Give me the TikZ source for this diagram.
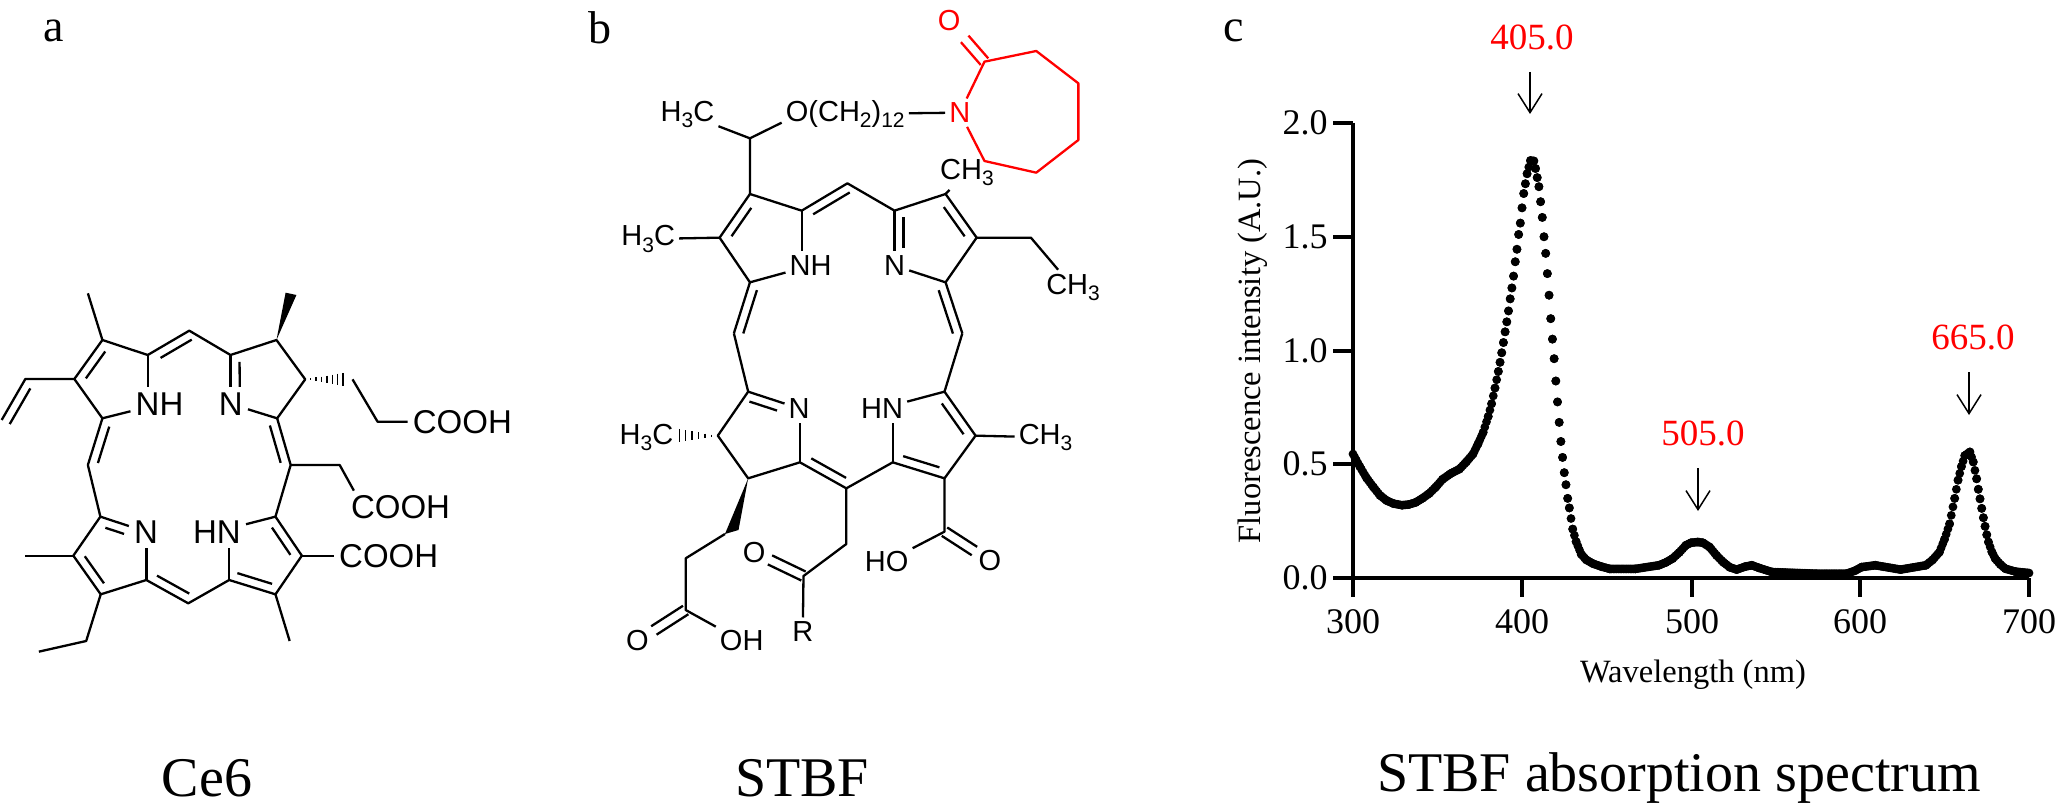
\documentclass[tikz,border=0pt]{standalone}
\usepackage{fontspec}
\setmainfont{Liberation Serif}
\newfontfamily\chemfont{Liberation Sans}
\usetikzlibrary{calc,arrows.meta}

\newcommand{\chemsub}[1]{\raisebox{-.22em}{\fontsize{21}{22}\selectfont #1}}
% second stroke of a double bond: [offset]{from}{to}{side}{start}{end}
\newcommand{\innerbond}[6][9pt]{\draw[bond] ($(#2)!#5!(#3)!#1!#4:(#3)$) -- ($(#2)!#6!(#3)!#1!#4:(#3)$);}

\tikzset{
    bond/.style={line width=2.3pt,line join=round},
    redbond/.style={bond,red},
    chema/.style={font=\chemfont\fontsize{33}{36}\selectfont,inner sep=5pt},
    chemb/.style={font=\chemfont\fontsize{29}{32}\selectfont,inner sep=4pt},
    axisline/.style={line width=4.4pt},
    ticklab/.style={font=\fontsize{36}{38}\selectfont,inner sep=0pt},
    titlelab/.style={font=\fontsize{32.5}{36}\selectfont,inner sep=0pt},
    peaklab/.style={font=\fontsize{37}{40}\selectfont,text=red,inner sep=0pt},
    peakarrow/.style={line width=1.5pt,-{Straight Barb[length=19pt,width=24pt,line width=1.5pt]}},
    panellab/.style={font=\fontsize{46}{50}\selectfont,inner sep=0pt},
    caption/.style={font=\fontsize{56}{60}\selectfont,inner sep=0pt},
    zoomone/.style={shift={(0pt,-260pt)},x=.338pt,y=-.33333pt},
    zoomtwo/.style={shift={(600pt,0pt)},x=.357pt,y=-.33333pt},
    zoomthree/.style={shift={(600pt,-360pt)},x=.357pt,y=-.33333pt},
}

\begin{document}
\begin{tikzpicture}[x=1pt,y=-1pt]
    \useasboundingbox (0,0) rectangle (2055,810);

    % panel letters and captions
    \node[panellab] (pana) at (54,31) {a};
    \node[panellab] (panb) at (600,28) {b};
    \node[panellab] (panc) at (1234,31) {c};
    \node[caption] (capa) at (207,778) {Ce6};
    \node[caption] (capb) at (802,778) {STBF};
    \node[caption] (capc) at (1679,778) {STBF absorption spectrum};

    % Ce6
    \begin{scope}[zoomone]
        \coordinate (A1) at (303,240);
        \coordinate (A2) at (220,357);
        \coordinate (A3) at (303,475);
        \coordinate (A4) at (437,285);
        \coordinate (M1) at (560,212);
        \coordinate (B1) at (682,285);
        \coordinate (B2) at (818,240);
        \coordinate (B3) at (903,358);
        \coordinate (B4) at (820,475);
        \coordinate (M2) at (860,615);
        \coordinate (C1) at (815,770);
        \coordinate (C2) at (893,887);
        \coordinate (C3) at (815,1003);
        \coordinate (C4) at (678,960);
        \coordinate (M3) at (557,1030);
        \coordinate (D1) at (433,960);
        \coordinate (D2) at (298,1003);
        \coordinate (D3) at (217,887);
        \coordinate (D4) at (297,770);
        \coordinate (M4) at (260,615);
        \coordinate (V1) at (75,357);
        \coordinate (V2) at (5,480);
        \coordinate (Me1) at (260,100);
        \coordinate (Me2) at (73,887);
        \coordinate (Me3) at (857,1143);
        \coordinate (Et1) at (255,1143);
        \coordinate (Et2) at (115,1175);
        \coordinate (Pr1) at (1043,358);
        \coordinate (Pr2) at (1117,485);
        \coordinate (Ac1) at (1005,615);
        \coordinate (Ac2) at (1047,692);

        \node[chema] (nh1) at (472,432) {NH};
        \node[chema] (n1) at (683,432) {N};
        \node[chema] (n2) at (432,815) {N};
        \node[chema] (hn2) at (642,815) {HN};
        \node[chema] (cooh1) at (1368,485) {COOH};
        \node[chema] (cooh2) at (1185,742) {COOH};
        \node[chema] (cooh3) at (1150,887) {COOH};

        % skeleton
        \draw[bond] (nh1) -- (A3) -- (A2) -- (A1) -- (A4) -- (M1) -- (B1) -- (B2) -- (B3) -- (B4) -- (n1);
        \draw[bond] (A4) -- (A4 |- nh1.north);
        \draw[bond] (B1) -- (B1 |- n1.north);
        \draw[bond] (A3) -- (M4) -- (D4) -- (n2);
        \draw[bond] (D4) -- (D3) -- (D2) -- (D1) -- (M3) -- (C4) -- (C3) -- (C2) -- (C1) -- (hn2);
        \draw[bond] (D1) -- (D1 |- n2.south);
        \draw[bond] (C4) -- (C4 |- hn2.south);
        \draw[bond] (B4) -- (M2) -- (C1);

        % second strokes
        \innerbond{A1}{A2}{90}{.16}{.85}
        \innerbond{A4}{M1}{-90}{.2}{.95}
        \innerbond{B1}{n1}{90}{.14}{.65}
        \innerbond{B4}{M2}{-90}{.1}{.9}
        \innerbond{A3}{M4}{90}{.12}{.9}
        \innerbond{D4}{n2}{-90}{.17}{.58}
        \innerbond{D3}{D2}{90}{.15}{.85}
        \innerbond{D1}{M3}{90}{.15}{.92}
        \innerbond{C4}{C3}{90}{.12}{.87}
        \innerbond{C1}{C2}{-90}{.15}{.85}
        \innerbond{V1}{V2}{90}{.12}{.99}

        % side groups
        \draw[bond] (A1) -- (Me1);
        \draw[bond] (A2) -- (V1) -- (V2);
        \draw[bond] (D3) -- (Me2);
        \draw[bond] (D2) -- (Et1) -- (Et2);
        \draw[bond] (C3) -- (Me3);
        \draw[bond] (C2) -- (cooh3.west);
        \draw[bond] (M2) -- (Ac1) -- (Ac2);
        \draw[bond] (Pr1) -- (Pr2) -- (cooh1.west |- Pr2);
        \fill (B2) -- (845,98) -- (877,105) -- cycle;
        \foreach \i in {1,...,7}
            \draw[line width=1.5pt] ({903+16*\i},{358-2.8*\i}) -- ({903+16*\i},{358+2.8*\i});
    \end{scope}

    % STBF, upper half
    \begin{scope}[zoomtwo]
        \coordinate (P1) at (420,582);
        \coordinate (P2) at (335,713);
        \coordinate (P3) at (420,847);
        \coordinate (P4) at (565,632);
        \coordinate (N1) at (693,550);
        \coordinate (Q1) at (825,632);
        \coordinate (Q2) at (968,582);
        \coordinate (Q3) at (1055,713);
        \coordinate (Q4) at (968,847);
        \coordinate (N2) at (1015,1000);
        \coordinate (N4) at (375,1000);
        \coordinate (Ea) at (420,415);
        \coordinate (Eb) at (1207,713);
        \coordinate (Rb) at (1077,185);
        \coordinate (Rc) at (1222,153);
        \coordinate (Rd) at (1340,250);
        \coordinate (Re) at (1340,420);
        \coordinate (Rf) at (1222,518);
        \coordinate (Rg) at (1077,483);

        \node[chemb] (hc1) at (245,343) {H\chemsub{3}C};
        \node[chemb] (oc) at (687,342) {O(CH\chemsub{2})\chemsub{12}};
        \node[chemb,text=red] (nred) at (1008,338) {N};
        \node[chemb,text=red] (ored) at (978,63) {O};
        \node[chemb] (ch1) at (1028,517) {CH\chemsub{3}};
        \node[chemb] (hc2) at (135,717) {H\chemsub{3}C};
        \node[chemb] (ch2) at (1325,862) {CH\chemsub{3}};
        \node[chemb] (nh3) at (590,797) {NH};
        \node[chemb] (n3) at (825,797) {N};

        % ring lactam
        \draw[redbond] (nred) -- (Rb) -- (Rc) -- (Rd) -- (Re) -- (Rf) -- (Rg) -- (nred);
        \begin{scope}[bond/.append style={red}]
            \innerbond[5pt]{Rb}{ored}{90}{0}{.56}
            \innerbond[5pt]{Rb}{ored}{-90}{0}{.56}
        \end{scope}

        % skeleton
        \draw[bond] (nh3) -- (P3) -- (P2) -- (P1) -- (P4) -- (N1) -- (Q1) -- (Q2) -- (Q3) -- (Q4) -- (n3);
        \draw[bond] (P4) -- (P4 |- nh3.north);
        \draw[bond] (Q1) -- (Q1 |- n3.north);
        \draw[bond] (P3) -- (N4);
        \draw[bond] (Q4) -- (N2);
        \innerbond{P1}{P2}{90}{.2}{.85}
        \innerbond{P4}{N1}{-90}{.15}{.95}
        \innerbond{Q1}{n3}{90}{.12}{.68}
        \innerbond{Q2}{Q3}{-90}{.18}{.85}
        \innerbond{P3}{N4}{90}{.1}{.95}
        \innerbond{Q4}{N2}{-90}{.1}{.95}

        % side groups
        \draw[bond] (P1) -- (Ea) -- (hc1);
        \draw[bond] (Ea) -- (oc.west |- 0,368);
        \draw[bond] (oc) -- (nred);
        \draw[bond] (P2) -- (hc2);
        \draw[bond] (Q2) -- (ch1);
        \draw[bond] (Q3) -- (Eb) -- (ch2);
    \end{scope}

    % STBF, lower half
    \begin{scope}[zoomthree]
        \coordinate (R1) at (415,95);
        \coordinate (R2) at (330,227);
        \coordinate (R3) at (415,355);
        \coordinate (R4) at (560,307);
        \coordinate (S1) at (690,385);
        \coordinate (T1) at (820,307);
        \coordinate (T2) at (965,355);
        \coordinate (T3) at (1052,227);
        \coordinate (T4) at (965,95);
        \coordinate (Wa) at (350,522);
        \coordinate (Wb) at (240,595);
        \coordinate (Wc) at (240,750);
        \coordinate (Ka) at (690,552);
        \coordinate (Kb) at (570,648);
        \coordinate (Ua) at (965,515);

        \node[chemb] (n4) at (558,145) {N};
        \node[chemb] (hn4) at (790,145) {HN};
        \node[chemb] (hc3) at (130,232) {H\chemsub{3}C};
        \node[chemb] (ch3) at (1248,232) {CH\chemsub{3}};
        \node[chemb] (o1) at (105,843) {O};
        \node[chemb] (oh1) at (397,843) {OH};
        \node[chemb] (o2) at (432,577) {O};
        \node[chemb] (rgrp) at (568,815) {R};
        \node[chemb] (ho3) at (803,605) {HO};
        \node[chemb] (o3) at (1092,603) {O};

        % skeleton
        \draw[bond] (N4) -- (R1) -- (R2) -- (R3) -- (R4) -- (S1) -- (T1) -- (T2) -- (T3) -- (T4) -- (N2);
        \draw[bond] (R1) -- (n4);
        \draw[bond] (R4) -- (R4 |- n4.south);
        \draw[bond] (T1) -- (T1 |- hn4.south);
        \draw[bond] (T4) -- (hn4);
        \innerbond{R1}{n4}{-90}{.08}{.62}
        \innerbond{R4}{S1}{90}{.15}{.9}
        \innerbond{T1}{T2}{90}{.15}{.85}
        \innerbond{T3}{T4}{90}{.15}{.85}

        % side groups
        \draw[bond] (T3) -- (ch3);
        \fill (R3) -- (350,522) -- (388,510) -- cycle;
        \foreach \i in {1,...,6}
            \draw[line width=1.5pt] ({330-18*\i},{227-3.2*\i}) -- ({330-18*\i},{227+3.2*\i});
        \draw[bond] (Wa) -- (Wb) -- (Wc) -- (oh1);
        \innerbond[5pt]{Wc}{o1}{90}{0}{.66}
        \innerbond[5pt]{Wc}{o1}{-90}{0}{.66}
        \draw[bond] (S1) -- (Ka) -- (Kb) -- (rgrp);
        \innerbond[5pt]{Kb}{o2}{90}{0}{.68}
        \innerbond[5pt]{Kb}{o2}{-90}{0}{.68}
        \draw[bond] (T2) -- (Ua) -- (ho3);
        \innerbond[5pt]{Ua}{o3}{90}{0}{.66}
        \innerbond[5pt]{Ua}{o3}{-90}{0}{.66}
    \end{scope}

    % axes
    \draw[axisline] (1353,123) -- (1353,597);
    \draw[axisline] (1333,578) -- (2029,578);
    \foreach \ypos/\ylab in {123/2.0,237/1.5,351/1.0,464/0.5,578/0.0}{
        \draw[axisline] (1333,\ypos) -- (1353,\ypos);
        \node[ticklab] (y\ypos) at (1305,\ypos) {\ylab};
    }
    \foreach \xpos/\xlab in {1353/300,1522/400,1692/500,1860/600,2029/700}{
        \draw[axisline] (\xpos,578) -- (\xpos,597);
        \node[ticklab] (x\xlab) at (\xpos,622) {\xlab};
    }
    \node[titlelab] (xtitle) at (1693,675) {Wavelength (nm)};
    \node[titlelab,rotate=90] (ytitle) at (1253,351) {Fluorescence intensity (A.U.)};

    % spectrum, one dot per nm between the listed values
    \foreach \wl/\val [remember=\wl as \wlast (initially 300),remember=\val as \vlast (initially .545)] in
        {304/.49,308/.44,312/.40,316/.363,320/.34,324/.327,329/.32,333/.323,337/.332,341/.35,345/.371,349/.40,
         353/.434,358/.46,363/.479,367/.51,371/.545,374/.59,377/.64,380/.71,382/.766,384/.835,
         386/.908,387/.948,388/.99,389/1.035,390/1.082,391/1.126,392/1.174,393/1.227,394/1.275,395/1.327,
         396/1.39,397/1.445,398/1.51,399/1.56,400/1.627,401/1.69,402/1.733,403/1.777,405/1.835,407/1.833,
         408/1.80,409/1.76,410/1.72,411/1.654,412/1.585,413/1.50,414/1.427,415/1.338,416/1.243,417/1.14,
         418/1.05,419/.964,420/.866,421/.774,422/.684,423/.6,424/.53,425/.463,426/.41,427/.35,428/.308,
         430/.215,432/.16,435/.105,438/.08,442/.063,447/.05,452/.04,467/.04,481/.056,485/.068,489/.085,
         493/.112,497/.144,500/.155,504/.158,507/.155,511/.136,515/.10,519/.07,523/.047,
         527/.037,532/.05,536/.056,540/.045,548/.026,574/.019,592/.019,597/.032,601/.048,609/.056,624/.037,639/.056,
         643/.08,647/.114,650/.17,653/.238,656/.35,658/.43,660/.49,662/.538,665/.554,667/.51,669/.436,670/.39,
         671/.348,672/.306,673/.265,674/.227,675/.19,676/.158,678/.115,680/.085,683/.06,686/.041,692/.028,700/.022}{
        \foreach \nm in {\wlast,...,\wl}{
            \pgfmathsetmacro\amp{\vlast+(\val-\vlast)*(\nm-\wlast)/(\wl-\wlast)}
            \fill ({1353+(\nm-300)*1.69},{578-227.5*\amp}) circle (4.4pt);
        }
    }

    % peaks
    \node[peaklab] (p405) at (1532,37) {405.0};
    \node[peaklab] (p505) at (1703,433) {505.0};
    \node[peaklab] (p665) at (1973,337) {665.0};
    \coordinate (t405) at (1530,72);
    \coordinate (e405) at (1530,114);
    \coordinate (t505) at (1698,468);
    \coordinate (e505) at (1698,511);
    \coordinate (t665) at (1969,372);
    \coordinate (e665) at (1969,415);
    \draw[peakarrow] (t405) -- (e405);
    \draw[peakarrow] (t505) -- (e505);
    \draw[peakarrow] (t665) -- (e665);
\end{tikzpicture}
\end{document}
